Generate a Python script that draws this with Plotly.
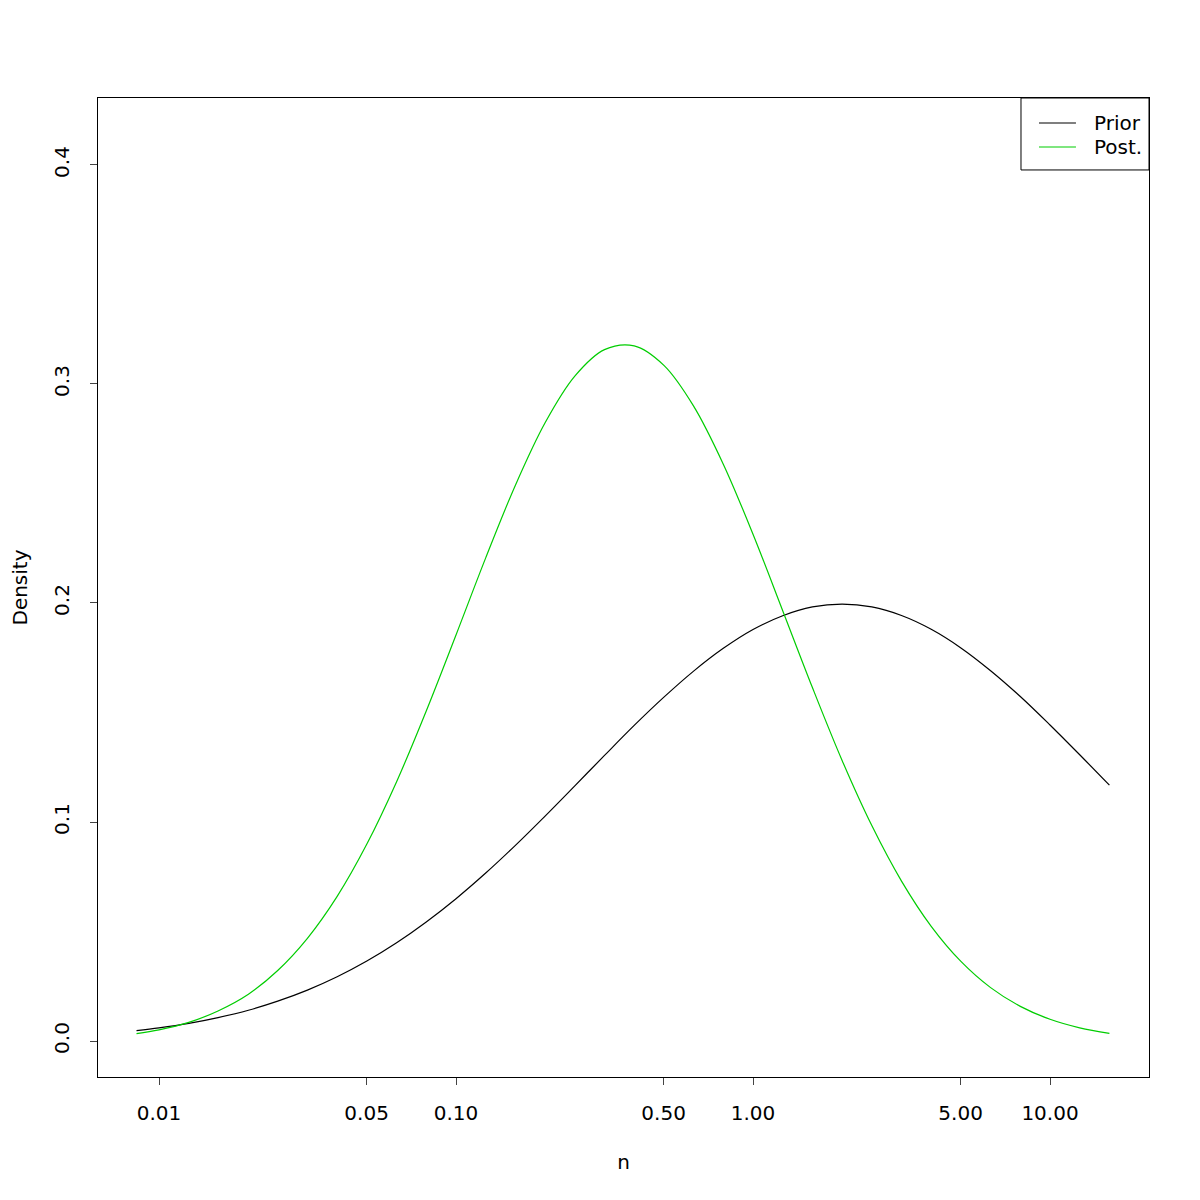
import plotly.graph_objects as go

n_vals = [0.0084, 0.01, 0.0126, 0.0158, 0.02, 0.0251, 0.0316, 0.0398, 0.0501, 0.0631,
          0.0794, 0.1, 0.1259, 0.1585, 0.1995, 0.2512, 0.3162, 0.3981, 0.5012, 0.631,
          0.7943, 1.0, 1.2589, 1.5849, 1.9953, 2.5119, 3.1623, 3.9811, 5.0119, 6.3096,
          7.9433, 10.0, 12.589, 15.849]

prior_density = [0.00472, 0.00597, 0.00805, 0.0107, 0.01405, 0.0182, 0.02324, 0.02933, 0.03649, 0.04483,
                 0.05433, 0.06498, 0.07669, 0.08934, 0.1027, 0.1165, 0.1304, 0.1441, 0.157, 0.1689,
                 0.1793, 0.1879, 0.1942, 0.1982, 0.1995, 0.1982, 0.1943, 0.188, 0.1795, 0.1691,
                 0.1573, 0.1443, 0.1307, 0.1168]

post_density = [0.00339, 0.0051, 0.0085, 0.01371, 0.02136, 0.03218, 0.04688, 0.06603, 0.08991, 0.1184,
                0.1507, 0.1854, 0.2206, 0.2538, 0.2823, 0.3036, 0.3157, 0.3174, 0.3085, 0.2899,
                0.2634, 0.2314, 0.1965, 0.1614, 0.1281, 0.09836, 0.07302, 0.05237, 0.03634, 0.02437,
                0.01581, 0.00991, 0.00601, 0.00352]

x_tick_vals = [0.01, 0.05, 0.1, 0.5, 1, 5, 10]
x_tick_text = ["0.01", "0.05", "0.10", "0.50", "1.00", "5.00", "10.00"]
y_tick_vals = [0.0, 0.1, 0.2, 0.3, 0.4]
y_tick_text = ["0.0", "0.1", "0.2", "0.3", "0.4"]

series_names = ["Prior", "Post."]
series_colors = ["black", "#00cd00"]

FONT = "DejaVu Sans"
FS = 20

fig = go.Figure()
for name, ys, col in zip(series_names, [prior_density, post_density], series_colors):
    fig.add_trace(go.Scatter(x=n_vals, y=ys, mode="lines", name=name, showlegend=False,
                             line=dict(color=col, width=1.2, shape="spline")))

# Manual R-style legend box (top-right, flush with plot frame)
shapes = [dict(type="rect", xref="paper", yref="paper", x0=0.8782, x1=1.0, y0=0.9265, y1=1.0,
               line=dict(color="black", width=1), fillcolor="white", layer="above")]
annotations = []
legend_y = [0.97446, 0.94995]
for name, col, ly in zip(series_names, series_colors, legend_y):
    shapes.append(dict(type="line", xref="paper", yref="paper", x0=0.8953, x1=0.9305, y0=ly, y1=ly,
                       line=dict(color=col, width=1.2), layer="above"))
    annotations.append(dict(text=name, xref="paper", yref="paper", x=0.9457, y=ly,
                            xanchor="left", yanchor="middle", showarrow=False,
                            font=dict(family=FONT, size=FS, color="black")))

fig.update_layout(
    width=1200, height=1200,
    paper_bgcolor="white", plot_bgcolor="white",
    margin=dict(l=90, r=59, t=90, b=131),
    font=dict(family=FONT, size=FS, color="black"),
    shapes=shapes, annotations=annotations,
)
fig.update_xaxes(
    type="log", range=[-2.2054, 1.3333], automargin=False,
    tickvals=x_tick_vals, ticktext=x_tick_text,
    ticks="outside", ticklen=7, tickcolor="#444", tickwidth=1,
    showline=True, linecolor="black", linewidth=1, mirror=True,
    showgrid=False, zeroline=False,
    ticklabelstandoff=11,
    title=dict(text="n", font=dict(size=FS), standoff=30),
)
fig.update_yaxes(
    range=[-0.01644, 0.43059], automargin=False,
    tickvals=y_tick_vals, ticktext=y_tick_text, tickangle=-90,
    ticks="outside", ticklen=7, tickcolor="#444", tickwidth=1,
    showline=True, linecolor="black", linewidth=1, mirror=True,
    showgrid=False, zeroline=False,
    ticklabelstandoff=13,
    title=dict(text="Density", font=dict(size=FS), standoff=32),
)

fig.write_html("out.html")
